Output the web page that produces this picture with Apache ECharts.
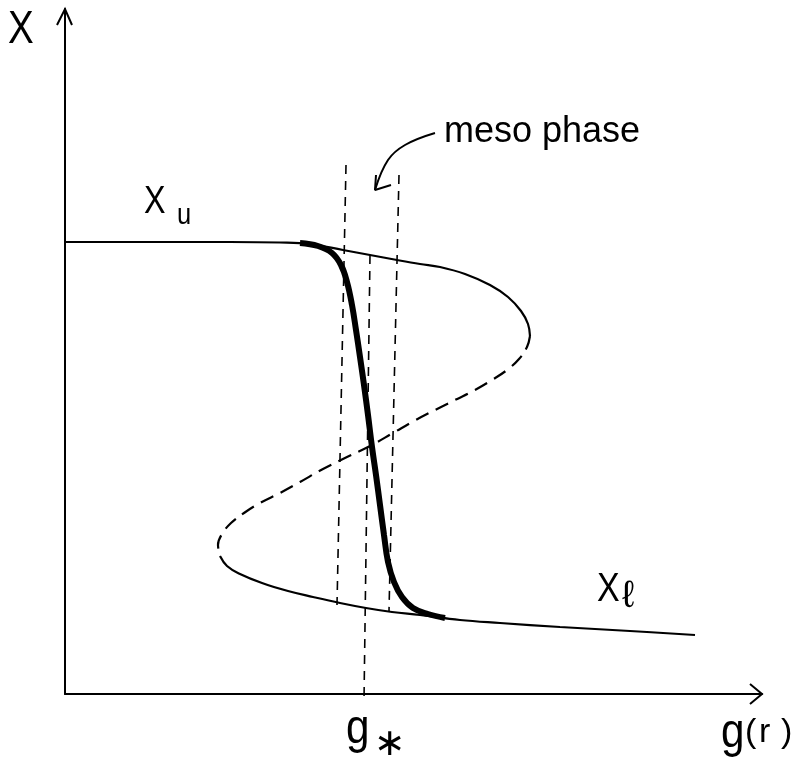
<!DOCTYPE html>
<html>
<head>
<meta charset="utf-8">
<title>Meso phase diagram</title>
<script src="https://cdn.jsdelivr.net/npm/echarts@6/dist/echarts.min.js"></script>
<style>
  html, body { margin: 0; padding: 0; background: #fff; }
  #chart { width: 802px; height: 762px; }
</style>
</head>
<body>
<div id="chart"></div>
<script>
// S-shaped equilibrium curve X(g): stable upper branch X_u
const upperBranch = [
  [0.00, 4.52], [0.85, 4.52], [1.65, 4.52], [2.15, 4.515], [2.45, 4.50],
  [2.78, 4.44], [3.05, 4.39], [3.32, 4.34], [3.55, 4.30], [3.75, 4.27],
  [4.00, 4.20], [4.25, 4.09], [4.43, 3.97], [4.56, 3.83], [4.63, 3.70],
  [4.65, 3.58]
];
// unstable middle branch (dashed)
const middleBranch = [
  [4.65, 3.58], [4.62, 3.47], [4.54, 3.35], [4.42, 3.24], [4.27, 3.14],
  [4.10, 3.04], [3.90, 2.94], [3.70, 2.84], [3.49, 2.73], [3.28, 2.61],
  [3.05, 2.48], [2.82, 2.37], [2.58, 2.25], [2.35, 2.12], [2.15, 2.01],
  [1.95, 1.91], [1.79, 1.81], [1.66, 1.71], [1.57, 1.60], [1.53, 1.49],
  [1.55, 1.38]
];
// stable lower branch X_l
const lowerBranch = [
  [1.55, 1.38], [1.62, 1.28], [1.75, 1.20], [1.97, 1.11], [2.23, 1.03],
  [2.48, 0.97], [2.75, 0.91], [3.01, 0.86], [3.27, 0.82], [3.55, 0.79],
  [3.95, 0.74], [4.35, 0.71], [4.95, 0.67], [5.65, 0.63], [6.30, 0.59]
];
// smoothed transition through the meso phase
const mesoCurve = [
  [2.35, 4.51], [2.53, 4.48], [2.67, 4.41], [2.76, 4.29], [2.82, 4.12],
  [2.87, 3.89], [2.91, 3.64], [2.95, 3.37], [2.99, 3.09], [3.03, 2.79],
  [3.07, 2.47], [3.11, 2.19], [3.15, 1.89], [3.19, 1.59], [3.23, 1.32],
  [3.29, 1.12], [3.37, 0.97], [3.48, 0.86], [3.63, 0.80], [3.80, 0.76]
];
// meso phase boundaries and the transition point g*
const leftBound = [[2.81, 5.29], [2.72, 0.89]];
const centerLine = [[3.05, 4.39], [2.99, -0.06]];
const rightBound = [[3.34, 5.19], [3.24, 0.83]];

// annotation geometry (same units as the axes)
const pointerCurve = [[3.70, 5.61], [3.40, 5.49], [3.23, 5.34], [3.10, 5.04]];
const pointerHead = [[3.11, 5.19], [3.10, 5.04], [3.26, 5.09]];
const yArrow = [[-0.08, 6.69], [0.00, 6.85], [0.07, 6.69]];
const xArrow = [[6.85, 0.10], [6.97, 0.00], [6.85, -0.10]];

const chart = echarts.init(document.getElementById('chart'), null, { renderer: 'canvas' });

function lineSeries(data, width, opts) {
  return Object.assign({
    type: 'line',
    data: data,
    showSymbol: false,
    symbol: 'none',
    clip: false,
    silent: true,
    lineStyle: { color: '#000', width: width, type: 'solid' }
  }, opts || {});
}

const font = '"Liberation Sans", Arial, sans-serif';
function label(text, left, top, size, opts) {
  return Object.assign({
    type: 'text', left: left, top: top, silent: true,
    style: { text: text, font: size + 'px ' + font, fill: '#000' }
  }, opts || {});
}

chart.setOption({
  animation: false,
  backgroundColor: '#fff',
  grid: { left: 65, top: 9, width: 697, height: 685 },
  xAxis: {
    type: 'value', min: 0, max: 6.97,
    axisLine: { show: true, onZero: false, lineStyle: { color: '#000', width: 2 } },
    axisTick: { show: false }, axisLabel: { show: false }, splitLine: { show: false }
  },
  yAxis: {
    type: 'value', min: 0, max: 6.85,
    axisLine: { show: true, onZero: false, lineStyle: { color: '#000', width: 2 } },
    axisTick: { show: false }, axisLabel: { show: false }, splitLine: { show: false }
  },
  series: [
    lineSeries(upperBranch, 2.2, { smooth: 0.4 }),
    lineSeries(middleBranch, 2.2, { smooth: 0.4, lineStyle: { color: '#000', width: 2.2, type: [14, 8] } }),
    lineSeries(lowerBranch, 2.2, { smooth: 0.4 }),
    lineSeries(mesoCurve, 6, { smooth: 0.4 }),
    lineSeries(leftBound, 1.6, { lineStyle: { color: '#000', width: 1.6, type: [9, 7] } }),
    lineSeries(centerLine, 1.6, { lineStyle: { color: '#000', width: 1.6, type: [9, 7] } }),
    lineSeries(rightBound, 1.6, { lineStyle: { color: '#000', width: 1.6, type: [9, 7] } }),
    lineSeries(pointerCurve, 2, { smooth: 0.4 }),
    lineSeries(pointerHead, 2)
  ]
});

// open arrowheads on the axes, placed through the axis scales
function arrowGraphic(points) {
  return {
    type: 'polyline', silent: true,
    shape: { points: points.map(p => chart.convertToPixel({ gridIndex: 0 }, p)) },
    style: { stroke: '#000', lineWidth: 2, fill: null }
  };
}

chart.setOption({
  graphic: [
    arrowGraphic(yArrow),
    arrowGraphic(xArrow),
    label('X', 8, 7, 47, { scaleX: 0.82 }),
    label('X', 144, 184, 38, { scaleX: 0.85 }),
    label('u', 177, 201, 30, { scaleX: 0.85 }),
    label('X', 597, 570, 40, { scaleX: 0.85 }),
    label('ℓ', 622, 578, 38),
    label('meso phase', 444, 114, 36),
    label('g', 346, 706, 48, { scaleX: 0.88 }),
    { type: 'text', left: 374, top: 726, silent: true,
      style: { text: '∗', font: '38px "DejaVu Sans", sans-serif', fill: '#000' } },
    label('g', 721, 710, 48, { scaleX: 0.88 }),
    label('(', 745, 716, 34),
    label('r', 759, 716, 34),
    label(')', 781, 716, 34)
  ]
});
</script>
</body>
</html>
